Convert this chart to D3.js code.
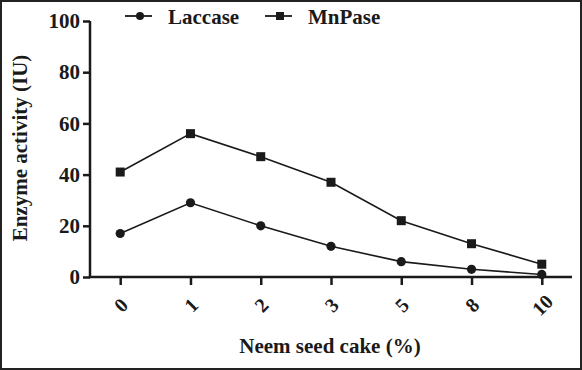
<!DOCTYPE html>
<html><head><meta charset="utf-8">
<script src="https://cdn.jsdelivr.net/npm/d3@7"></script>
<style>
html,body{margin:0;padding:0;background:#fff;}
svg{display:block;}
text{font-family:"Liberation Serif","Times New Roman",serif;font-weight:bold;fill:#1a1a1a;}
</style></head>
<body>
<script>
const categories = ["0","1","2","3","5","8","10"];
const laccase = [17, 29, 20, 12, 6, 3, 1];
const mnpase = [41, 56, 47, 37, 22, 13, 5];
const yTicks = [0, 20, 40, 60, 80, 100];

const W = 582, H = 370;
const svg = d3.select("body").append("svg").attr("width", W).attr("height", H);

svg.append("rect").attr("x",1).attr("y",1).attr("width",W-2).attr("height",H-2)
  .attr("fill","#fff").attr("stroke","#222").attr("stroke-width",2);

const x = d3.scalePoint().domain(categories).range([90, 572]).padding(0.43);
const y = d3.scaleLinear().domain([0, 100]).range([277, 21]);

const ink = "#1a1a1a";

// Y axis
const ya = svg.append("g").attr("transform","translate(90,0)")
  .call(d3.axisLeft(y).tickValues(yTicks).tickSize(7).tickPadding(3));
ya.select(".domain").attr("stroke",ink).attr("stroke-width",2.5).attr("d","M0,"+y(100)+"V"+y(0));
ya.selectAll(".tick line").attr("stroke",ink).attr("stroke-width",2.5);
ya.selectAll(".tick text").attr("font-size",21).style("font-family","'Liberation Serif',serif").style("font-weight","bold").attr("fill",ink);

// X axis
const xa = svg.append("g").attr("transform","translate(0,277)")
  .call(d3.axisBottom(x).tickSize(8).tickSizeOuter(0));
xa.select(".domain").attr("stroke",ink).attr("stroke-width",2.5).attr("d","M88.8,0H572");
xa.selectAll(".tick line").attr("stroke",ink).attr("stroke-width",2.5);
xa.selectAll(".tick text")
  .attr("font-size",20).style("font-family","'Liberation Serif',serif").style("font-weight","bold").attr("fill",ink)
  .attr("text-anchor","middle").attr("dy",null).attr("y",0)
  .attr("transform","translate(0,28) rotate(-45)")
  .attr("dominant-baseline","central");

// Lines
const line = d3.line().x((d,i)=>x(categories[i])).y(d=>y(d));
[laccase, mnpase].forEach(s=>{
  svg.append("path").datum(s).attr("d",line).attr("fill","none").attr("stroke",ink).attr("stroke-width",1.6);
});
svg.selectAll("circle.l").data(laccase).enter().append("circle")
  .attr("cx",(d,i)=>x(categories[i])).attr("cy",d=>y(d)).attr("r",4.6).attr("fill",ink);
svg.selectAll("rect.m").data(mnpase).enter().append("rect")
  .attr("x",(d,i)=>x(categories[i])-4.5).attr("y",d=>y(d)-4.5).attr("width",9).attr("height",9).attr("fill",ink);

// Legend
const lg = svg.append("g");
lg.append("line").attr("x1",125).attr("x2",152).attr("y1",16).attr("y2",16).attr("stroke",ink).attr("stroke-width",1.8);
lg.append("circle").attr("cx",140).attr("cy",16).attr("r",4).attr("fill",ink);
lg.append("text").attr("x",168).attr("y",24).attr("font-size",21).text("Laccase");
lg.append("line").attr("x1",265).attr("x2",292).attr("y1",16).attr("y2",16).attr("stroke",ink).attr("stroke-width",1.8);
lg.append("rect").attr("x",276).attr("y",12).attr("width",8).attr("height",8).attr("fill",ink);
lg.append("text").attr("x",308).attr("y",24).attr("font-size",21).text("MnPase");

// Titles
svg.append("text").attr("x",330).attr("y",353).attr("text-anchor","middle").attr("font-size",21).text("Neem seed cake (%)");
svg.append("text").attr("transform","translate(27,148) rotate(-90)").attr("text-anchor","middle").attr("font-size",21).text("Enzyme activity (IU)");
</script>
</body></html>
